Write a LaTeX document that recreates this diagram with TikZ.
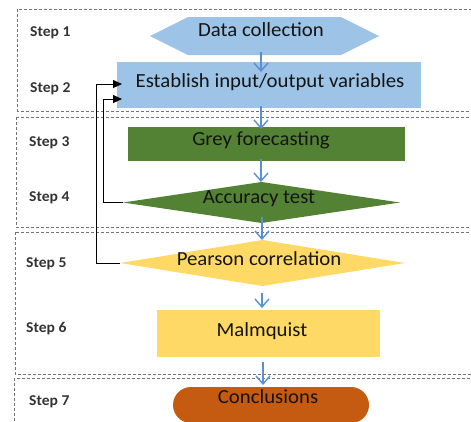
\documentclass[tikz,border=0pt]{standalone}
\usepackage{fontspec}
\setmainfont{Carlito}[FakeStretch=1.04]
\usetikzlibrary{arrows.meta,calc,shapes.misc}
\definecolor{skyfill}{HTML}{9DC3E6}
\definecolor{leaf}{HTML}{548235}
\definecolor{sand}{HTML}{FFD966}
\definecolor{rust}{HTML}{C55A11}
\definecolor{flowblue}{HTML}{5B8FD0}
\definecolor{steptext}{HTML}{333333}
\tikzset{
  frame/.style={draw=black!55, line width=0.6pt, densely dashed},
  shapebox/.style={inner sep=0pt, outer sep=0pt, minimum width=#1},
  maintext/.style={anchor=base, font=\fontsize{20}{24}\selectfont, text=black!92, inner sep=0pt},
  steplabel/.style={anchor=base west, font=\fontsize{15}{18}\selectfont\bfseries, text=steptext, inner sep=0pt},
  flow/.style={draw=flowblue, line width=1.4pt, -{Straight Barb[length=8pt,width=14pt,line width=1.4pt]}},
  back/.style={draw=black, line width=1pt, -{Triangle[length=9pt,width=8pt]}},
}
\begin{document}
\begin{tikzpicture}[x=1pt,y=-1pt]
\useasboundingbox (0,0) rectangle (471,421);

% step frames
\draw[frame] (17.5,9) rectangle (490,111);
\draw[frame] (16,117) rectangle (490,227);
\draw[frame] (15,232) rectangle (490,374);
\draw[frame] (14,378) rectangle (490,440);

% shape placeholders
\node[shapebox=229, minimum height=38] (data) at (264.5,36) {};
\node[shapebox=304, minimum height=46, fill=skyfill] (estab) at (269,85) {};
\node[shapebox=277, minimum height=34, fill=leaf] (grey) at (266.5,144) {};
\node[shapebox=277, minimum height=41] (acc) at (261.5,202.5) {};
\node[shapebox=285, minimum height=46] (pear) at (262.5,263) {};
\node[shapebox=223, minimum height=47, fill=sand] (malm) at (268.5,333.5) {};
\node[shapebox=196, minimum height=36, rounded rectangle, fill=rust] (concl) at (271,405) {};

% hexagon and diamonds drawn from the placeholder anchors
\fill[skyfill] (data.west) -- ($(data.north west)+(38,0)$) -- ($(data.north east)+(-38,0)$)
  -- (data.east) -- ($(data.south east)+(-38,0)$) -- ($(data.south west)+(38,0)$) -- cycle;
\fill[leaf] (acc.west) -- (acc.north) -- (acc.east) -- (acc.south) -- cycle;
\fill[sand] (pear.west) -- (pear.north) -- (pear.east) -- (pear.south) -- cycle;

% texts
\node[maintext] (datat) at (261,36) {Data collection};
\node[maintext] (estabt) at (270,87) {Establish input/output variables};
\node[maintext] (greyt) at (261,145) {Grey forecasting};
\node[maintext] (acct) at (259,203) {Accuracy test};
\node[maintext] (peart) at (259,265) {Pearson correlation};
\node[maintext] (malmt) at (262,336) {Malmquist};
\node[maintext] (conclt) at (268,403) {Conclusions};

% step labels
\node[steplabel] (s1) at (30,36) {Step 1};
\node[steplabel] (s2) at (30,92) {Step 2};
\node[steplabel] (s3) at (29,146) {Step 3};
\node[steplabel] (s4) at (29,201) {Step 4};
\node[steplabel] (s5) at (26,267) {Step 5};
\node[steplabel] (s6) at (26,332) {Step 6};
\node[steplabel] (s7) at (29,405) {Step 7};

% main flow
\coordinate (ax) at (261,0);
\coordinate (bx) at (262,0);
\coordinate (cx) at (263,0);
\draw[flow, shorten <=-3pt, shorten >=-10pt] (data.south -| ax) -- (estab.north -| ax);
\draw[flow, shorten <=-2pt, shorten >=-2pt] (estab.south -| ax) -- (grey.north -| ax);
\draw[flow, shorten <=-2pt, shorten >=0pt] (grey.south -| ax) -- (acc.north -| ax);
\draw[flow, shorten <=-6pt, shorten >=0pt] (acc.south -| bx) -- (pear.north -| bx);
\draw[flow, shorten <=7pt, shorten >=2pt] (pear.south -| bx) -- (malm.north -| bx);
\draw[flow, shorten <=5pt, shorten >=2pt] (malm.south -| cx) -- (concl.north -| cx);

% feedback loops
\draw[back, shorten >=-5pt] (pear.west) -- ++(-24,0) |- ([yshift=1pt]estab.west);
\draw[back, shorten >=-5pt] (acc.west) -- ++(-20,0) |- ([yshift=-14pt]estab.west);
\end{tikzpicture}
\end{document}
